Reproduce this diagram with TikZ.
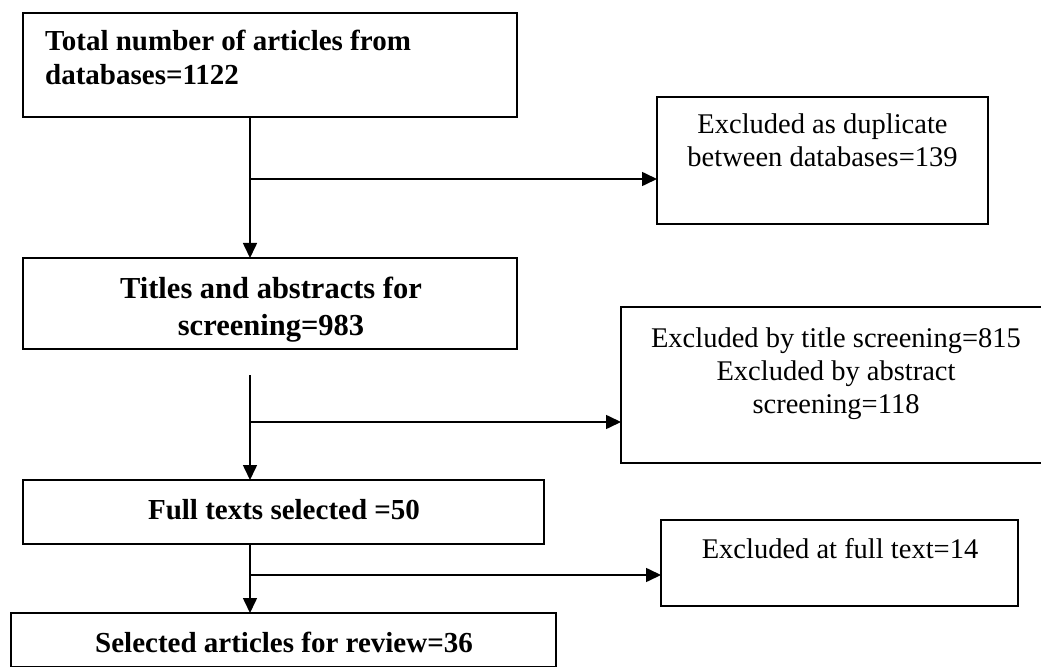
\documentclass[tikz,border=0pt]{standalone}
\usepackage{fontspec}
\setmainfont{Liberation Serif}
\usetikzlibrary{arrows.meta}
\tikzset{
  box/.style={draw=black, line width=1.6pt, rectangle, inner sep=0pt, outer sep=0pt},
  arr/.style={line width=1.6pt, -{Triangle[length=15pt,width=14pt]}},
  bt/.style={font=\fontsize{29}{34}\selectfont\bfseries, inner sep=0pt, anchor=base},
  bt3/.style={font=\fontsize{30.5}{37}\selectfont\bfseries, inner sep=0pt, anchor=base, align=center},
  nt/.style={font=\fontsize{28.5}{33}\selectfont, inner sep=0pt, anchor=base, align=center},
}
\begin{document}
\begin{tikzpicture}[x=1pt,y=-1pt]
\useasboundingbox (0,0) rectangle (1041,668);
% boxes
\node[box, minimum width=494pt, minimum height=104pt] (b1) at (270,65) {};
\node[box, minimum width=331pt, minimum height=127pt] (b2) at (822.5,160.5) {};
\node[box, minimum width=494pt, minimum height=91pt] (b3) at (270,303.5) {};
\node[box, minimum width=424pt, minimum height=156pt] (b4) at (833,385) {};
\node[box, minimum width=521pt, minimum height=64pt] (b5) at (283.5,512) {};
\node[box, minimum width=357pt, minimum height=86pt] (b6) at (839.5,563) {};
\node[box, minimum width=545pt, minimum height=53.5pt] (b7) at (283.5,639.75) {};
% texts (base anchor of a multi-line node = last line's baseline)
\node[bt, anchor=base west, align=left] (t1) at (45,85) {Total number of articles from\\databases=1122};
\node[nt] (t2) at (822.5,167) {Excluded as duplicate\\between databases=139};
\node[bt3] (t3) at (271,335) {Titles and abstracts for\\screening=983};
\node[nt] (t4) at (836,413) {Excluded by title screening=815\\Excluded by abstract\\screening=118};
\node[bt] (t5) at (284,519) {Full texts selected =50};
\node[nt] (t6) at (840,558) {Excluded at full text=14};
\node[bt] (t7) at (284,652) {Selected articles for review=36};
% connectors
\coordinate (col) at (250,0);
\coordinate (j1) at (250,179);
\coordinate (s2) at (250,375);
\coordinate (j2) at (250,422);
\coordinate (j3) at (250,575);
\draw[arr] (b1.south -| col) -- (b3.north -| col);
\draw[arr] (j1) -- (j1 -| b2.west);
\draw[arr] (s2) -- (b5.north -| col);
\draw[arr] (j2) -- (j2 -| b4.west);
\draw[arr] (b5.south -| col) -- (b7.north -| col);
\draw[arr] (j3) -- (j3 -| b6.west);
\end{tikzpicture}
\end{document}
